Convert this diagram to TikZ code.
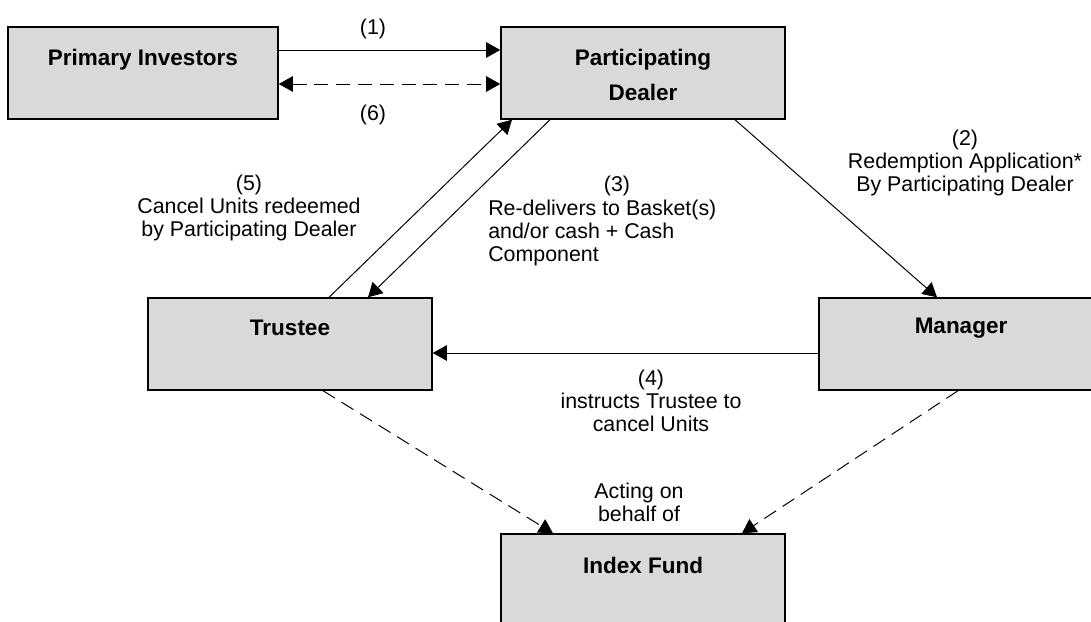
\documentclass[tikz,border=0pt]{standalone}
\usepackage{fontspec}
\setmainfont{Liberation Sans}
\usetikzlibrary{arrows.meta}
\definecolor{boxgray}{HTML}{D9D9D9}
\tikzset{
  >={Triangle[length=10pt,width=11pt]},
  box/.style={draw, line width=1pt, fill=boxgray, minimum width=7.1cm, minimum height=2.3cm, inner sep=0pt},
  boxtext/.style={font=\fontsize{16}{24.9}\selectfont\bfseries, align=center, inner sep=0pt},
  lbl/.style={font=\fontsize{15.2}{16.4}\selectfont, align=center, inner sep=0pt},
  flow/.style={line width=0.7pt, ->},
  link/.style={flow, dash pattern=on 10pt off 5.5pt},
}
\begin{document}
\begin{tikzpicture}[x=0.025cm, y=-0.025cm]
	\useasboundingbox (0,0) rectangle (1091,622);
	\clip (0,0) rectangle (1091,622);
	% boxes
	\node[box, minimum width=6.75cm] (pi) at (143,73) {};
	\node[box] (pd) at (643,73) {};
	\node[box] (tr) at (290,344) {};
	\node[box] (mg) at (961,344) {};
	\node[box] (if) at (643,580) {};
	\node[boxtext] (pi-txt) at (143,60) {Primary Investors};
	\node[boxtext] (pd-txt) at (643,75) {Participating\\Dealer};
	\node[boxtext] (tr-txt) at (290,328) {Trustee};
	\node[boxtext] (mg-txt) at (961,328) {Manager};
	\node[boxtext] (if-txt) at (643,565) {Index Fund};
	% flows
	\draw[flow] (pi.east |- 0,50) -- (pd.west |- 0,50);
	\draw[link, <->] (pi.east |- 0,84) -- (pd.west |- 0,84);
	\draw[flow] (pd.south -| 735,0) -- (mg.north -| 937,0);
	\draw[flow] (pd.south -| 550,0) -- (tr.north -| 368,0);
	\draw[flow] (mg.west |- 0,353) -- (tr.east |- 0,353);
	\draw[flow] (tr.north -| 329,0) -- (pd.south -| 512,0);
	\draw[link] (tr.south -| 323,0) -- (if.north -| 553,0);
	\draw[link] (mg.south -| 958,0) -- (if.north -| 742,0);
	% labels
	\node[lbl] (l1) at (373,29) {(1)};
	\node[lbl] (l6) at (373,115) {(6)};
	\node[lbl] (l2) at (965,163) {(2)\\Redemption Application*\\By Participating Dealer};
	\node[lbl] (l3n) at (617,186) {(3)};
	\node[lbl, align=left, anchor=west] (l3) at (488,233) {Re-delivers to Basket(s)\\and/or cash + Cash\\Component};
	\node[lbl] (l4) at (651,401) {(4)\\instructs Trustee to\\cancel Units};
	\node[lbl] (l5) at (249,208) {(5)\\Cancel Units redeemed\\by Participating Dealer};
	\node[lbl] (lact) at (639,502) {Acting on\\behalf of};
\end{tikzpicture}
\end{document}
